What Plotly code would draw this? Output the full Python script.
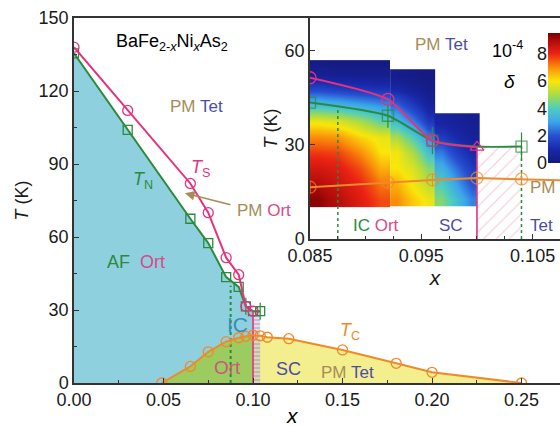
import plotly.graph_objects as go

# ---------------- main panel data (x, T in K) ----------------
ts_x = [0.0, 0.030, 0.065, 0.075, 0.085, 0.092, 0.096, 0.100]
ts_y = [138.0, 112.0, 82.0, 70.0, 51.5, 44.5, 31.5, 29.5]

tn_x = [0.0, 0.030, 0.065, 0.075, 0.085, 0.092, 0.096, 0.100, 0.104]
tn_y = [135.5, 104.0, 67.5, 57.5, 43.5, 39.5, 31.5, 29.5, 29.5]
tn_err = [0, 0, 0, 0, 0, 0, 3.5, 0, 3.5]

tc_x = [0.049, 0.065, 0.075, 0.085, 0.092, 0.096, 0.100, 0.104, 0.108, 0.120, 0.150, 0.180, 0.200, 0.250]
tc_y = [0.0, 6.8, 12.8, 17.0, 18.6, 19.2, 19.7, 19.4, 18.8, 18.2, 13.6, 8.1, 4.4, 0.0]

x_ic = 0.0875      # IC / commensurate boundary (dotted)
x_tet = 0.100      # orthorhombic -> tetragonal boundary
x_hatch = 0.104    # right edge of hatched strip
t_ic_top = 40.0
t_boundary = 29.5

main_xticks = [0.0, 0.05, 0.10, 0.15, 0.20, 0.25]
main_xticktext = ["0.00", "0.05", "0.10", "0.15", "0.20", "0.25"]
main_yticks = [0, 30, 60, 90, 120, 150]

# ---------------- inset data ----------------
in_ts_x = [0.085, 0.092, 0.096, 0.100]
in_ts_y = [51.3, 44.4, 31.3, 29.2]
in_tn_x = [0.085, 0.092, 0.096, 0.100, 0.104]
in_tn_y = [43.4, 39.2, 31.3, 29.4, 29.4]
in_tn_err = [0, 3.8, 4.3, 0, 4.5]
in_tc_x = [0.085, 0.092, 0.096, 0.100, 0.104, 0.108]
in_tc_y = [16.5, 18.1, 18.8, 19.4, 19.1, 18.6]
in_tc_err = [2.0, 2.0, 2.0, 2.0, 2.0, 0]
in_ic_top = 41.8
in_hatch_top = 29.4

in_xticks = [0.085, 0.095, 0.105]
in_xticktext = ["0.085", "0.095", "0.105"]
in_yticks = [0, 30, 60]

# heat map of orthorhombic distortion delta (units 1e-4); x,y given as cell edges
hm_a_x = [0.085, 0.0865, 0.0885, 0.0905, 0.0922]
hm_a_y = [10.3, 15, 20, 25, 30, 35, 40, 45, 50, 55, 56.9]
hm_a_z = [
    [9.3, 8.8, 8.2, 7.6],
    [8.9, 8.5, 8.0, 7.2],
    [8.4, 8.2, 7.6, 6.6],
    [7.8, 7.7, 7.0, 6.0],
    [7.0, 6.9, 6.2, 5.8],
    [5.8, 5.6, 5.0, 4.2],
    [3.6, 3.4, 3.1, 2.8],
    [1.8, 1.6, 1.4, 1.3],
    [0.5, 0.4, 0.4, 0.4],
    [0.2, 0.1, 0.1, 0.1],
]
hm_b_x = [0.0922, 0.0935, 0.095, 0.0962]
hm_b_y = [10.3, 15, 20, 25, 30, 35, 40, 45, 50, 54.0]
hm_b_z = [
    [7.0, 6.3, 5.8],
    [6.6, 5.9, 5.2],
    [6.0, 5.6, 4.6],
    [5.9, 5.0, 3.6],
    [5.0, 4.0, 2.6],
    [3.5, 2.6, 1.4],
    [2.3, 1.5, 0.7],
    [1.0, 0.6, 0.3],
    [0.3, 0.2, 0.1],
]
hm_c_x = [0.0962, 0.0975, 0.0988, 0.1002]
hm_c_y = [10.3, 15, 20, 25, 30, 35, 40]
hm_c_z = [
    [4.6, 3.6, 2.6],
    [4.0, 3.0, 2.0],
    [3.3, 2.4, 1.5],
    [2.5, 1.6, 1.0],
    [1.5, 1.0, 0.6],
    [0.8, 0.6, 0.4],
]
cb_ticks = [0, 2, 4, 6, 8]
delta_max = 9.5

# ---------------- styles ----------------
FONT = "Liberation Sans"
MAG = "#e5327d"
GRN = "#2b8a3e"
ORG = "#f0892a"
BLUE_FILL = "#8fd0de"
GREEN_FILL = "#9ccb60"
YELLOW_FILL = "#f3ee8e"
TAN = "#a68d57"
SLATE = "#4c4ca6"
ORT = "#d94a86"
IC_BLUE = "#3a8cb8"
AXC = "#333333"

delta_scale = [
    [0.0, "rgb(20,25,125)"], [0.105, "rgb(25,40,170)"], [0.21, "rgb(40,80,210)"],
    [0.316, "rgb(60,165,235)"], [0.42, "rgb(80,205,190)"], [0.526, "rgb(170,220,70)"],
    [0.63, "rgb(250,230,10)"], [0.737, "rgb(250,140,10)"], [0.842, "rgb(235,35,20)"],
    [0.947, "rgb(170,10,10)"], [1.0, "rgb(120,0,0)"],
]

fig = go.Figure()

# ----- main fills -----
af_x = [0.0] + tn_x[:8] + tc_x[:7][::-1] + [0.0]
af_y = [0.0] + tn_y[:8] + tc_y[:7][::-1] + [0.0]
fig.add_trace(go.Scatter(x=af_x, y=af_y, fill="toself", fillcolor=BLUE_FILL,
                         mode="none", hoverinfo="skip"))
fig.add_trace(go.Scatter(x=tc_x[:7] + [x_tet], y=tc_y[:7] + [0.0], fill="toself",
                         fillcolor=GREEN_FILL, mode="none", hoverinfo="skip"))
fig.add_trace(go.Scatter(x=[x_tet] + tc_x[6:], y=[0.0] + tc_y[6:], fill="toself",
                         fillcolor=YELLOW_FILL, mode="none", hoverinfo="skip"))
fig.add_trace(go.Scatter(x=[x_tet, x_hatch, x_hatch, x_tet], y=[0, 0, t_boundary, t_boundary],
                         fill="toself", mode="none",
                         fillpattern=dict(shape="-", fgcolor="#8a8a8a", bgcolor="rgba(200,190,230,0.55)",
                                          size=4, solidity=0.35),
                         hoverinfo="skip"))
# boundaries
fig.add_trace(go.Scatter(x=[x_ic, x_ic], y=[0, t_ic_top], mode="lines",
                         line=dict(color=GRN, width=2, dash="dot")))
fig.add_trace(go.Scatter(x=[x_tet, x_tet], y=[0, t_boundary], mode="lines",
                         line=dict(color=MAG, width=1.6)))
# curves
fig.add_trace(go.Scatter(x=tc_x, y=tc_y, mode="lines+markers",
                         line=dict(color=ORG, width=2),
                         marker=dict(symbol="circle-open", size=10, color=ORG, line=dict(width=1.3))))
fig.add_trace(go.Scatter(x=tn_x, y=tn_y, mode="lines+markers",
                         line=dict(color=GRN, width=2),
                         error_y=dict(type="data", array=tn_err, visible=True, color=GRN, thickness=1.2, width=0),
                         marker=dict(symbol="square-open", size=9, color=GRN, line=dict(width=1.3))))
fig.add_trace(go.Scatter(x=ts_x, y=ts_y, mode="lines+markers",
                         line=dict(color=MAG, width=2),
                         marker=dict(symbol="circle-open", size=10, color=MAG, line=dict(width=1.3))))

# ----- inset heat map -----
for hx, hy, hz in [(hm_a_x, hm_a_y, hm_a_z), (hm_b_x, hm_b_y, hm_b_z), (hm_c_x, hm_c_y, hm_c_z)]:
    fig.add_trace(go.Heatmap(x=hx, y=hy, z=hz, zsmooth="best", coloraxis="coloraxis",
                             xaxis="x2", yaxis="y2", hoverinfo="skip"))

# inset hatched tetragonal region
fig.add_trace(go.Scatter(x=[x_tet, x_hatch, x_hatch, x_tet], y=[0, 0, in_hatch_top, in_hatch_top],
                         xaxis="x2", yaxis="y2", fill="toself", mode="none",
                         fillpattern=dict(shape="/", fgcolor="#ec94b0", bgcolor="white", size=9, solidity=0.12),
                         hoverinfo="skip"))
fig.add_trace(go.Scatter(x=[x_ic, x_ic], y=[0, in_ic_top], xaxis="x2", yaxis="y2", mode="lines",
                         line=dict(color=GRN, width=1.5, dash="dot")))
fig.add_trace(go.Scatter(x=[x_hatch, x_hatch], y=[0, in_hatch_top], xaxis="x2", yaxis="y2", mode="lines",
                         line=dict(color=GRN, width=1.5, dash="dot")))
fig.add_trace(go.Scatter(x=[x_tet, x_tet], y=[0, in_ts_y[-1]], xaxis="x2", yaxis="y2", mode="lines",
                         line=dict(color=MAG, width=1.6)))
fig.add_trace(go.Scatter(x=in_tc_x, y=in_tc_y, xaxis="x2", yaxis="y2", mode="lines+markers",
                         line=dict(color=ORG, width=2),
                         error_y=dict(type="data", array=in_tc_err, visible=True, color=ORG, thickness=1, width=0),
                         marker=dict(symbol="circle-open", size=[12, 12, 12, 12, 12, 0], color=ORG,
                                     line=dict(width=1.3))))
fig.add_trace(go.Scatter(x=in_tn_x, y=in_tn_y, xaxis="x2", yaxis="y2", mode="lines+markers",
                         line=dict(color=GRN, width=2, shape="spline", smoothing=0.6),
                         error_y=dict(type="data", array=in_tn_err, visible=True, color=GRN, thickness=1.2, width=0),
                         marker=dict(symbol="square-open", size=[11, 11, 11, 0, 11], color=GRN,
                                     line=dict(width=1.3))))
fig.add_trace(go.Scatter(x=in_ts_x, y=in_ts_y, xaxis="x2", yaxis="y2", mode="lines+markers",
                         line=dict(color=MAG, width=2, shape="spline", smoothing=0.6),
                         marker=dict(symbol=["circle-open"] * 3 + ["triangle-up-open"], size=12, color=MAG,
                                     line=dict(width=1.3))))

# invisible carrier so that the colour-bar tick axis is drawn
fig.add_trace(go.Scatter(x=[0.5] * len(cb_ticks), y=cb_ticks, xaxis="x3", yaxis="y3", mode="markers",
                         marker=dict(size=1, opacity=0), hoverinfo="skip"))

# ----- annotations -----
def ann(x, y, text, size=17, color="black", xref="x", yref="y", **kw):
    return dict(x=x, y=y, xref=xref, yref=yref, text=text, showarrow=False,
                font=dict(family=FONT, size=size, color=color), **kw)

def span(t, c):
    return f"<span style='color:{c}'>{t}</span>"

annotations = [
    ann(0.0547, 140, "BaFe<sub>2-<i>x</i></sub>Ni<sub><i>x</i></sub>As<sub>2</sub>", size=18),
    ann(0.0687, 113.8, span("PM", TAN) + " " + span("Tet", SLATE)),
    ann(0.0704, 88.0, "<i>T</i><sub>S</sub>", size=18, color=MAG),
    ann(0.0385, 83.4, "<i>T</i><sub>N</sub>", size=18, color=GRN),
    ann(0.106, 71.0, span("PM", TAN) + " " + span("Ort", ORT)),
    ann(0.0346, 49.7, span("AF", GRN) + "  " + span("Ort", ORT), size=18),
    ann(0.0916, 24.2, "IC", size=21, color=IC_BLUE),
    ann(0.0855, 6.2, "Ort", size=19, color="#c85a7c"),
    ann(0.120, 5.8, "SC", size=18, color=SLATE),
    ann(0.153, 4.5, span("PM", TAN) + " " + span("Tet", SLATE)),
    ann(0.154, 21.0, "<i>T</i><sub>C</sub>", size=18, color=ORG),
    dict(x=0.062, y=78.0, xref="x", yref="y", ax=47, ay=12, axref="pixel", ayref="pixel",
         text="", showarrow=True, arrowhead=2, arrowsize=1.2, arrowwidth=1.6, arrowcolor=TAN),
    ann(0.1218, -0.089, "<i>x</i>", size=21, xref="x", yref="paper", yanchor="middle"),
    # inset labels
    ann(0.0968, 62.0, span("PM", TAN) + " " + span("Tet", SLATE), xref="x2", yref="y2"),
    ann(0.0909, 4.2, span("IC", GRN) + " " + span("Ort", ORT), xref="x2", yref="y2"),
    ann(0.0977, 4.2, "SC", color=SLATE, xref="x2", yref="y2"),
    ann(0.1058, 4.2, "Tet", color=SLATE, xref="x2", yref="y2"),
    ann(0.1059, 16.3, "PM", color=TAN, xref="x2", yref="y2"),
    ann(0.928, 0.951, "10<sup>-4</sup>", size=18, xref="paper", yref="paper"),
    ann(0.9115, 0.860, "<i>δ</i>", size=19, xref="paper", yref="paper"),
]

tickfont = dict(family=FONT, size=18, color="#1a1a1a")
fig.update_layout(
    width=560, height=426,
    margin=dict(l=74, r=0, t=18, b=43, autoexpand=False),
    paper_bgcolor="white", plot_bgcolor="rgba(0,0,0,0)",
    showlegend=False,
    font=dict(family=FONT, color="#1a1a1a"),
    xaxis=dict(domain=[0, 1], range=[0, 0.2715], tickvals=main_xticks, ticktext=main_xticktext,
               ticks="inside", ticklen=5, tickcolor=AXC, showline=True, linecolor=AXC, linewidth=1.5,
               mirror=True, showgrid=False, zeroline=False, tickfont=tickfont,
               minor=dict(dtick=0.025, tick0=0, ticks="inside", ticklen=3, tickcolor=AXC)),
    yaxis=dict(domain=[0, 1], range=[0, 150], tickvals=main_yticks, ticks="inside", ticklen=5,
               tickcolor=AXC, showline=True, linecolor=AXC, linewidth=1.5, showgrid=False,
               zeroline=False, tickfont=tickfont,
               title=dict(text="<i>T</i> (K)", font=dict(family=FONT, size=18), standoff=5),
               minor=dict(dtick=15, tick0=0, ticks="inside", ticklen=3, tickcolor=AXC)),
    xaxis2=dict(domain=[0.4856, 1.0], anchor="y2", range=[0.085, 0.10746], tickvals=in_xticks,
                ticktext=in_xticktext, ticks="inside", ticklen=5, tickcolor=AXC, showline=True,
                linecolor=AXC, linewidth=1.5, showgrid=False, zeroline=False, tickfont=tickfont,
                title=dict(text="<i>x</i>", font=dict(family=FONT, size=21), standoff=0),
                minor=dict(dtick=0.0025, tick0=0.085, ticks="inside", ticklen=3, tickcolor=AXC)),
    yaxis2=dict(domain=[0.3945, 1.0], anchor="x2", range=[0, 70.3], tickvals=in_yticks,
                ticks="inside", ticklen=5, tickcolor=AXC, showline=True, linecolor=AXC, linewidth=1.5,
                showgrid=False, zeroline=False, tickfont=tickfont,
                title=dict(text="<i>T</i> (K)", font=dict(family=FONT, size=18), standoff=2)),
    xaxis3=dict(domain=[0.9753, 1.0], anchor="y3", visible=False, range=[0, 1]),
    yaxis3=dict(domain=[0.6027, 0.9589], anchor="x3", range=[0, delta_max], tickvals=cb_ticks,
                side="left", showline=False, ticks="", showgrid=False, zeroline=False,
                tickfont=dict(family=FONT, size=18, color="#1a1a1a")),
    coloraxis=dict(colorscale=delta_scale, cmin=0, cmax=delta_max,
                   colorbar=dict(x=0.9753, xanchor="left", xpad=0, ypad=0, thickness=12,
                                 lenmode="pixels", len=130, y=0.7808, yanchor="middle",
                                 outlinewidth=0, showticklabels=False, ticks="")),
    annotations=annotations,
)

fig.write_html("out.html")
